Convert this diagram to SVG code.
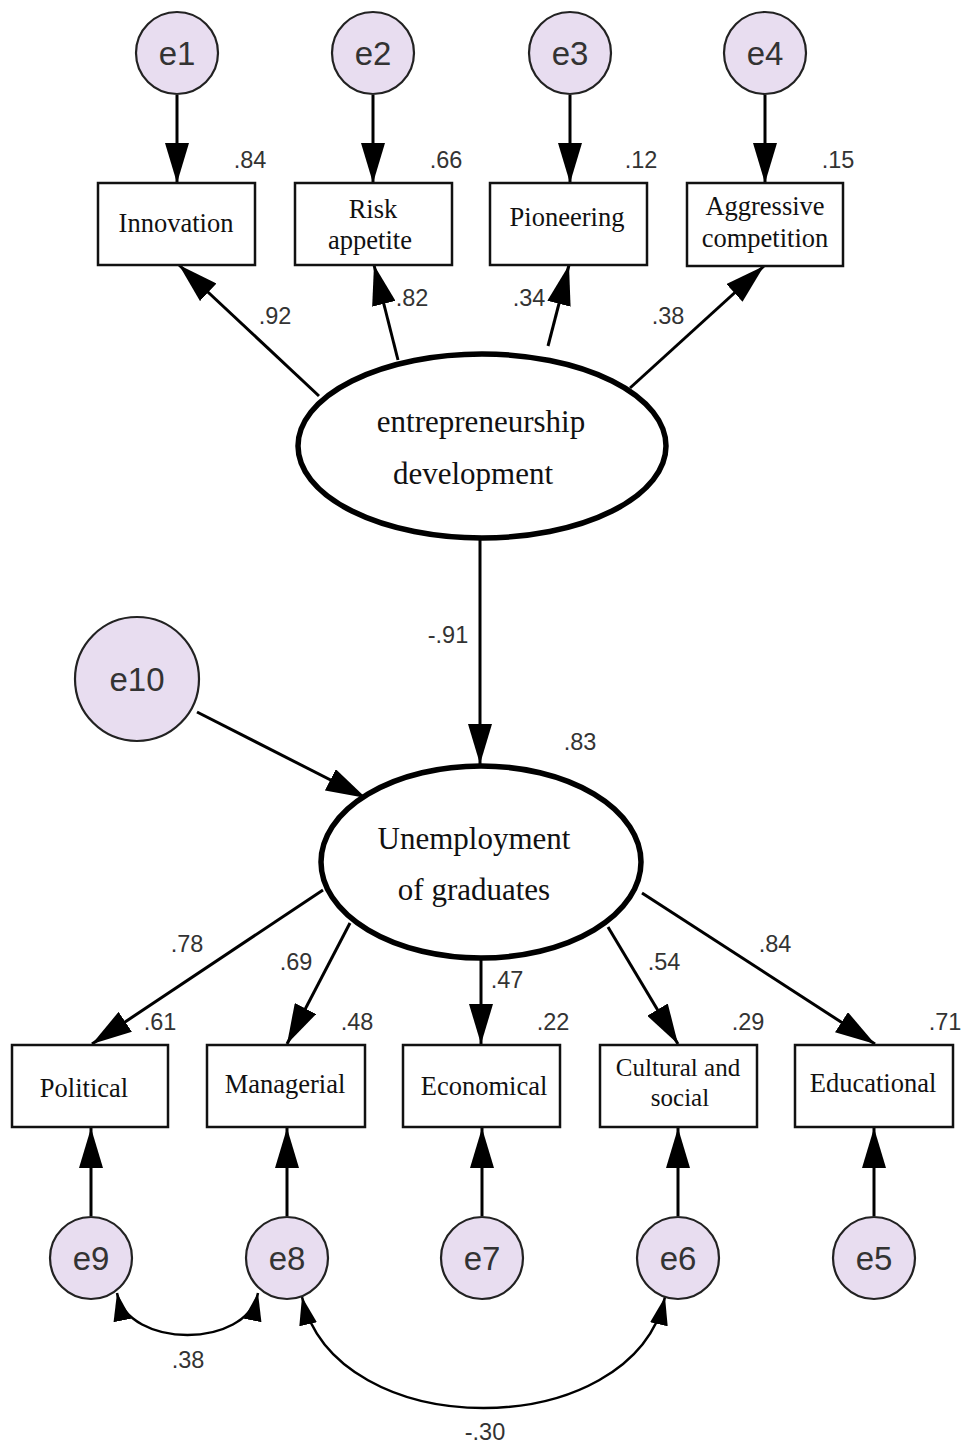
<svg xmlns="http://www.w3.org/2000/svg" width="965" height="1448" viewBox="0 0 965 1448">
<style>
.err{fill:#e8ddf0;stroke:#222;stroke-width:2.2}
.box{fill:#fff;stroke:#111;stroke-width:2.5}
.lat{fill:#fff;stroke:#000;stroke-width:5.5}
.lbl{font-family:"Liberation Serif","Times New Roman",serif;font-size:26.5px;fill:#111;text-anchor:middle}
.sm{font-size:25px}
.big{font-family:"Liberation Serif","Times New Roman",serif;font-size:31px;fill:#111;text-anchor:middle}
.en{font-family:"Liberation Sans",Arial,sans-serif;font-size:33px;fill:#333;text-anchor:middle}
.num{font-family:"Liberation Sans",Arial,sans-serif;font-size:23.5px;fill:#333;text-anchor:middle}
.ar{stroke:#000;stroke-width:3;fill:none;marker-end:url(#ah)}
.cv{stroke:#000;stroke-width:2.5;fill:none;marker-start:url(#sh);marker-end:url(#sh)}
</style>
<defs>
<marker id="ah" markerUnits="userSpaceOnUse" markerWidth="40" markerHeight="24" refX="40" refY="12" orient="auto"><path d="M0,0 L40,12 L0,24 z" fill="#000"/></marker>
<marker id="sh" markerUnits="userSpaceOnUse" markerWidth="28" markerHeight="18" refX="28" refY="9" orient="auto-start-reverse"><path d="M0,0 L28,9 L0,18 z" fill="#000"/></marker>
</defs>
<rect width="965" height="1448" fill="#fff"/>
<g id="connectors">
<line class="ar" x1="177" y1="95" x2="177" y2="183"/>
<line class="ar" x1="373" y1="95" x2="373" y2="183"/>
<line class="ar" x1="570" y1="95" x2="570" y2="183"/>
<line class="ar" x1="765" y1="95" x2="765" y2="183"/>
<line class="ar" x1="319" y1="396" x2="179" y2="265"/>
<line class="ar" x1="398" y1="360" x2="374" y2="265"/>
<line class="ar" x1="548" y1="346" x2="569" y2="265"/>
<line class="ar" x1="630" y1="388" x2="764" y2="266"/>
<line class="ar" x1="480" y1="540" x2="480" y2="764"/>
<line class="ar" x1="197" y1="712" x2="366" y2="798"/>
<line class="ar" x1="323" y1="890" x2="92" y2="1044"/>
<line class="ar" x1="350" y1="923" x2="287" y2="1044"/>
<line class="ar" x1="481" y1="960" x2="481" y2="1044"/>
<line class="ar" x1="608" y1="927" x2="678" y2="1044"/>
<line class="ar" x1="642" y1="893" x2="875" y2="1044"/>
<line class="ar" x1="91" y1="1216" x2="91" y2="1128"/>
<line class="ar" x1="287" y1="1216" x2="287" y2="1128"/>
<line class="ar" x1="482" y1="1216" x2="482" y2="1128"/>
<line class="ar" x1="678" y1="1216" x2="678" y2="1128"/>
<line class="ar" x1="874" y1="1216" x2="874" y2="1128"/>
<path class="cv" d="M117,1293 C128,1349 247,1349 258,1293"/>
<path class="cv" d="M302,1297 C335,1445 632,1445 665,1297"/>
</g>
<g id="e1"><circle class="err" cx="177" cy="53" r="41"/><text class="en" x="177" y="65">e1</text></g>
<g id="e2"><circle class="err" cx="373" cy="53" r="41"/><text class="en" x="373" y="65">e2</text></g>
<g id="e3"><circle class="err" cx="570" cy="53" r="41"/><text class="en" x="570" y="65">e3</text></g>
<g id="e4"><circle class="err" cx="765" cy="53" r="41"/><text class="en" x="765" y="65">e4</text></g>
<g id="innovation"><rect class="box" x="98" y="183" width="157" height="82"/><text class="lbl" x="176" y="232">Innovation</text></g>
<g id="risk"><rect class="box" x="295" y="183" width="157" height="82"/><text class="lbl" x="373" y="218">Risk</text><text class="lbl" x="370" y="249">appetite</text></g>
<g id="pioneering"><rect class="box" x="490" y="183" width="157" height="82"/><text class="lbl" x="567" y="226">Pioneering</text></g>
<g id="aggressive"><rect class="box" x="687" y="183" width="156" height="83"/><text class="lbl" x="765" y="215">Aggressive</text><text class="lbl" x="765" y="247">competition</text></g>
<g id="entrepreneurship"><ellipse class="lat" cx="482" cy="446" rx="184" ry="92"/><text class="big" x="481" y="432">entrepreneurship</text><text class="big" x="473" y="484">development</text></g>
<g id="e10"><circle class="err" cx="137" cy="679" r="62"/><text class="en" x="137" y="691">e10</text></g>
<g id="unemployment"><ellipse class="lat" cx="481" cy="862" rx="160" ry="96"/><text class="big" x="474" y="849">Unemployment</text><text class="big" x="474" y="900">of graduates</text></g>
<g id="political"><rect class="box" x="12" y="1045" width="156" height="82"/><text class="lbl" x="84" y="1097">Political</text></g>
<g id="managerial"><rect class="box" x="207" y="1045" width="158" height="82"/><text class="lbl" x="285" y="1093">Managerial</text></g>
<g id="economical"><rect class="box" x="403" y="1045" width="157" height="82"/><text class="lbl" x="484" y="1095">Economical</text></g>
<g id="cultural"><rect class="box" x="600" y="1045" width="157" height="82"/><text class="lbl sm" x="678" y="1076">Cultural and</text><text class="lbl sm" x="680" y="1106">social</text></g>
<g id="educational"><rect class="box" x="795" y="1045" width="158" height="82"/><text class="lbl" x="873" y="1092">Educational</text></g>
<g id="e9"><circle class="err" cx="91" cy="1258" r="41"/><text class="en" x="91" y="1270">e9</text></g>
<g id="e8"><circle class="err" cx="287" cy="1258" r="41"/><text class="en" x="287" y="1270">e8</text></g>
<g id="e7"><circle class="err" cx="482" cy="1258" r="41"/><text class="en" x="482" y="1270">e7</text></g>
<g id="e6"><circle class="err" cx="678" cy="1258" r="41"/><text class="en" x="678" y="1270">e6</text></g>
<g id="e5"><circle class="err" cx="874" cy="1258" r="41"/><text class="en" x="874" y="1270">e5</text></g>
<g id="labels">
<text class="num" x="250" y="168">.84</text>
<text class="num" x="446" y="168">.66</text>
<text class="num" x="641" y="168">.12</text>
<text class="num" x="838" y="168">.15</text>
<text class="num" x="275" y="324">.92</text>
<text class="num" x="412" y="306">.82</text>
<text class="num" x="529" y="306">.34</text>
<text class="num" x="668" y="324">.38</text>
<text class="num" x="448" y="643">-.91</text>
<text class="num" x="580" y="750">.83</text>
<text class="num" x="187" y="952">.78</text>
<text class="num" x="296" y="970">.69</text>
<text class="num" x="507" y="988">.47</text>
<text class="num" x="664" y="970">.54</text>
<text class="num" x="775" y="952">.84</text>
<text class="num" x="160" y="1030">.61</text>
<text class="num" x="357" y="1030">.48</text>
<text class="num" x="553" y="1030">.22</text>
<text class="num" x="748" y="1030">.29</text>
<text class="num" x="945" y="1030">.71</text>
<text class="num" x="188" y="1368">.38</text>
<text class="num" x="485" y="1440">-.30</text>
</g>
</svg>
